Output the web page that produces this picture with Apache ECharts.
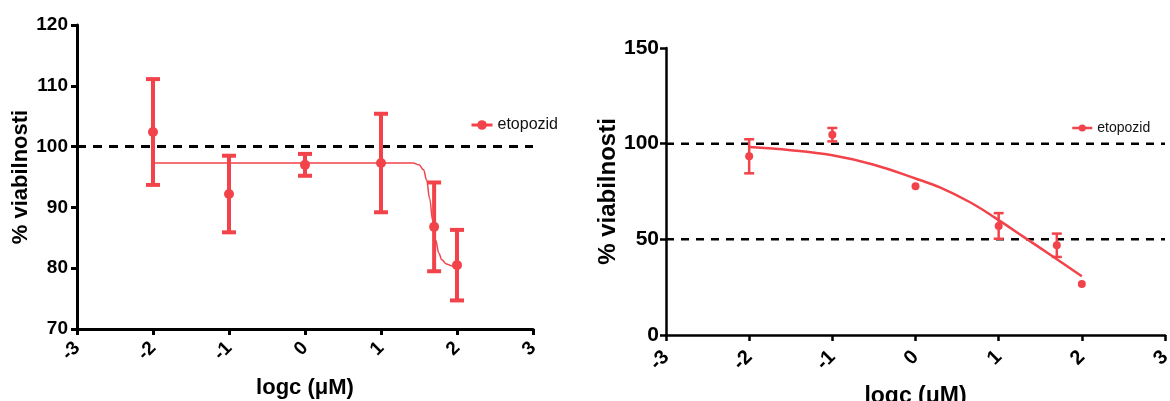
<!DOCTYPE html>
<html>
<head>
<meta charset="utf-8">
<script src="https://cdn.jsdelivr.net/npm/echarts@6/dist/echarts.min.js"></script>
<style>
  html, body { margin: 0; padding: 0; background: #fff; }
  #chart { width: 1170px; height: 401px; }
</style>
</head>
<body>
<div id="chart"></div>
<script>
// Dose–response of etoposide: two panels, log concentration vs. % viability

const seriesName = 'etopozid';
const xTicks = [-3, -2, -1, 0, 1, 2, 3];
const yAxisTitle = '% viabilnosti';
const xAxisTitle = 'logc (\u03bcM)';

// Left panel measurements (mean ± error)
const leftLogC = [-2, -1, 0, 1, 1.699, 2];
const leftMean = [102.4, 92.2, 97.0, 97.3, 86.8, 80.5];
const leftErr  = [8.7, 6.3, 1.8, 8.1, 7.3, 5.8];
// Left panel fitted curve
const leftFitX = [-2, 1.42, 1.5, 1.56, 1.6, 1.64, 1.68, 1.72, 1.76, 1.8, 1.86, 1.93, 2];
const leftFitY = [97.3, 97.3, 97.0, 96.2, 94.5, 91.5, 87.8, 84.6, 82.5, 81.4, 80.7, 80.4, 80.3];
const leftRefLines = [100];

// Right panel measurements (mean ± error)
const rightLogC = [-2, -1, 0, 1, 1.699, 2];
const rightMean = [93.4, 104.7, 77.7, 57.0, 46.9, 26.6];
const rightErr  = [8.9, 3.5, 0, 6.7, 6.1, 0];
// Right panel fitted curve
const rightFitX = [-2, -1.5, -1, -0.5, 0, 0.3, 0.65, 0.95, 1.3, 1.66, 2];
const rightFitY = [98.2, 96.6, 93.9, 89.0, 81.8, 77.0, 69.5, 61.5, 51.3, 40.8, 30.7];
const rightRefLines = [100, 50];

const RED = '#F2434A';
const FONT = "'Liberation Sans', Arial, sans-serif";

const zip = (xs, ys) => xs.map((x, i) => [x, ys[i]]);
const errData = (xs, m, e) => xs.map((x, i) => [x, m[i] - e[i], m[i] + e[i]]);

function errorBarSeries(gridIdx, data, capW, lw) {
  return {
    type: 'custom',
    name: 'err' + gridIdx,
    xAxisIndex: gridIdx, yAxisIndex: gridIdx,
    data: data,
    z: 3,
    renderItem: function (params, api) {
      const x = api.value(0);
      const lo = api.coord([x, api.value(1)]);
      const hi = api.coord([x, api.value(2)]);
      if (Math.abs(lo[1] - hi[1]) < 0.5) return { type: 'group', children: [] };
      const st = { stroke: RED, lineWidth: lw };
      return {
        type: 'group',
        children: [
          { type: 'line', shape: { x1: hi[0], y1: hi[1], x2: lo[0], y2: lo[1] }, style: st },
          { type: 'line', shape: { x1: hi[0] - capW / 2, y1: hi[1], x2: hi[0] + capW / 2, y2: hi[1] }, style: st },
          { type: 'line', shape: { x1: lo[0] - capW / 2, y1: lo[1], x2: lo[0] + capW / 2, y2: lo[1] }, style: st }
        ]
      };
    }
  };
}

function refLineSeries(gridIdx, values, lw, dash) {
  return values.map((v, i) => ({
    type: 'line',
    name: 'ref' + gridIdx + '_' + i,
    xAxisIndex: gridIdx, yAxisIndex: gridIdx,
    data: [[-3, v], [3, v]],
    symbol: 'none',
    silent: true,
    z: 1,
    lineStyle: { color: '#000', width: lw, type: dash }
  }));
}

function xAxisCfg(gridIdx, fontSize, margin, lw, gap) {
  return {
    gridIndex: gridIdx,
    type: 'value',
    min: -3, max: 3, interval: 1,
    splitLine: { show: false },
    axisLine: { onZero: false, lineStyle: { color: '#000', width: lw } },
    axisTick: { show: true, length: 6, lineStyle: { color: '#000', width: lw } },
    axisLabel: {
      rotate: 45, margin: margin,
      color: '#000', fontWeight: 'bold', fontSize: fontSize, fontFamily: FONT,
      formatter: v => xTicks.includes(v) ? String(v) : ''
    },
    name: xAxisTitle,
    nameLocation: 'middle',
    nameGap: gap,
    nameTextStyle: { color: '#000', fontWeight: 'bold', fontSize: fontSize + 3, fontFamily: FONT }
  };
}

function yAxisCfg(gridIdx, min, max, interval, fontSize, margin, lw, gap) {
  return {
    gridIndex: gridIdx,
    type: 'value',
    min: min, max: max, interval: interval,
    splitLine: { show: false },
    axisLine: { show: true, onZero: false, lineStyle: { color: '#000', width: lw } },
    axisTick: { show: true, length: 6, lineStyle: { color: '#000', width: lw } },
    axisLabel: {
      margin: margin,
      color: '#000', fontWeight: 'bold', fontSize: fontSize, fontFamily: FONT
    },
    name: yAxisTitle,
    nameLocation: 'middle',
    nameRotate: 90,
    nameGap: gap,
    nameTextStyle: { color: '#000', fontWeight: 'bold', fontSize: fontSize + 3, fontFamily: FONT }
  };
}

const chart = echarts.init(document.getElementById('chart'), null, { renderer: 'canvas' });

const option = {
  animation: false,
  backgroundColor: '#fff',
  grid: [
    { left: 77, top: 25, width: 456, height: 304, outerBoundsMode: 'none', containLabel: false },
    { left: 666, top: 48, width: 499, height: 287, outerBoundsMode: 'none', containLabel: false }
  ],
  xAxis: [
    xAxisCfg(0, 19, 16, 3, 48),
    xAxisCfg(1, 20, 19, 2.5, 50)
  ],
  yAxis: [
    yAxisCfg(0, 70, 120, 10, 19, 9, 3, 37),
    yAxisCfg(1, 0, 150, 50, 21, 7, 2.5, 43)
  ],
  legend: [
    {
      left: 465, top: 112,
      itemWidth: 21, itemHeight: 12, itemGap: 9,
      textStyle: { fontSize: 16, color: '#111', fontFamily: FONT },
      data: [{ name: seriesName, lineStyle: { color: RED, width: 3, opacity: 1 }, itemStyle: { color: RED } }]
    },
    {
      left: 1066, top: 116,
      itemWidth: 20, itemHeight: 9, itemGap: 7,
      textStyle: { fontSize: 14, color: '#111', fontFamily: FONT },
      data: [{ name: seriesName, lineStyle: { color: RED, width: 2.5, opacity: 1 }, itemStyle: { color: RED } }]
    }
  ],
  series: [
    ...refLineSeries(0, leftRefLines, 3, [9, 7]),
    ...refLineSeries(1, rightRefLines, 2.5, [8, 7]),
    {
      type: 'line', name: 'fit0',
      xAxisIndex: 0, yAxisIndex: 0,
      data: zip(leftFitX, leftFitY),
      symbol: 'none', smooth: 0.4, smoothMonotone: 'x',
      lineStyle: { color: RED, width: 1.5 }, z: 2
    },
    {
      type: 'line', name: 'fit1',
      xAxisIndex: 1, yAxisIndex: 1,
      data: zip(rightFitX, rightFitY),
      symbol: 'none', smooth: 0.4,
      lineStyle: { color: RED, width: 2.5 }, z: 2
    },
    errorBarSeries(0, errData(leftLogC, leftMean, leftErr), 14, 4),
    errorBarSeries(1, errData(rightLogC, rightMean, rightErr), 10, 2.5),
    {
      type: 'line', name: seriesName,
      xAxisIndex: 0, yAxisIndex: 0,
      data: zip(leftLogC, leftMean),
      symbol: 'circle', symbolSize: 10,
      itemStyle: { color: RED },
      lineStyle: { width: 0, opacity: 0 }, z: 4
    },
    {
      type: 'line', name: seriesName,
      xAxisIndex: 1, yAxisIndex: 1,
      data: zip(rightLogC, rightMean),
      symbol: 'circle', symbolSize: 8,
      itemStyle: { color: RED },
      lineStyle: { width: 0, opacity: 0 }, z: 4
    }
  ]
};

chart.setOption(option);
</script>
</body>
</html>
